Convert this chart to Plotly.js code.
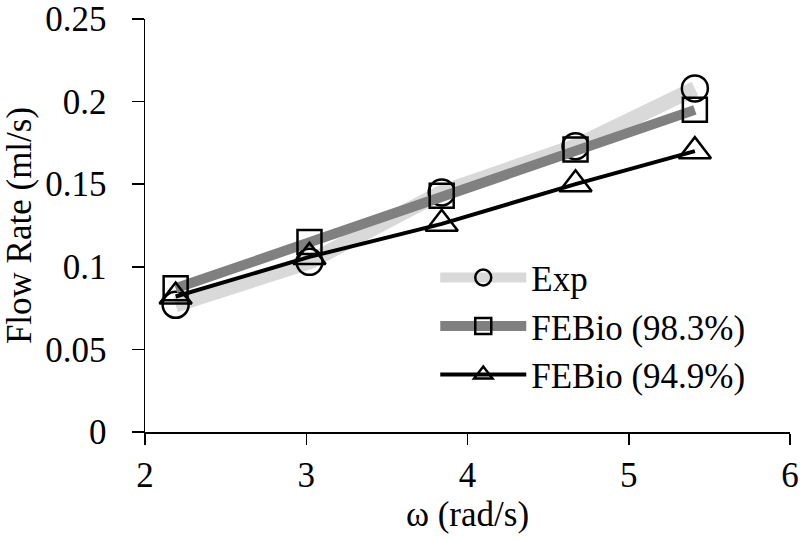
<!DOCTYPE html>
<html>
<head>
<meta charset="utf-8">
<script src="https://cdn.plot.ly/plotly-3.0.1.min.js"></script>
<style>html,body{margin:0;padding:0;background:#fff;}#chart{width:800px;height:539px;}</style>
</head>
<body>
<div id="chart"></div>
<script>
const omega = [2.19, 3.02, 3.84, 4.67, 5.41];
const expFlow = [0.077, 0.103, 0.145, 0.173, 0.208];
const febio983 = [0.087, 0.115, 0.143, 0.171, 0.195];
const febio949 = [0.082, 0.106, 0.126, 0.150, 0.170];
const seriesNames = ['Exp', 'FEBio (98.3%)', 'FEBio (94.9%)'];
const xTicks = [2, 3, 4, 5, 6];
const yTicks = [0, 0.05, 0.1, 0.15, 0.2, 0.25];
const yTickText = ['0', '0.05', '0.1', '0.15', '0.2', '0.25'];

const font = '"Liberation Serif", serif';
const traces = [
  {x: omega, y: expFlow, name: seriesNames[0], mode: 'lines+markers',
   line: {color: '#d9d9d9', width: 15},
   marker: {symbol: 'circle-open', size: 26, color: '#000', line: {width: 2.5, color: '#000'}}},
  {x: omega, y: febio983, name: seriesNames[1], mode: 'lines+markers',
   line: {color: '#808080', width: 10},
   marker: {symbol: 'square-open', size: 24, color: '#000', line: {width: 2.5, color: '#000'}}},
  {x: omega, y: febio949, name: seriesNames[2], mode: 'lines+markers',
   line: {color: '#000', width: 4},
   marker: {symbol: 'triangle-up-open', size: 28, color: '#000', line: {width: 2.5, color: '#000'}}}
];
const layout = {
  width: 800, height: 539,
  margin: {l: 145, r: 10, t: 19, b: 107},
  paper_bgcolor: '#fff', plot_bgcolor: '#fff',
  font: {family: font, size: 35, color: '#000'},
  showlegend: true,
  legend: {x: 0.45, y: 0.445, xanchor: 'left', yanchor: 'top', bgcolor: 'rgba(0,0,0,0)',
           font: {family: font, size: 35, color: '#000'}, itemwidth: 86, tracegroupgap: 0},
  xaxis: {range: [2, 6], tickvals: xTicks, ticktext: xTicks.map(String), showgrid: false, zeroline: false,
          showline: true, linecolor: '#000', linewidth: 1.5, ticks: 'outside', ticklen: 11, tickwidth: 1.5, tickcolor: '#000',
          ticklabeloverflow: 'allow',
          tickfont: {family: font, size: 35}, title: {text: 'ω (rad/s)', font: {family: font, size: 35}, standoff: 8}},
  yaxis: {range: [0, 0.25], tickvals: yTicks, ticktext: yTickText, showgrid: false, zeroline: false,
          showline: true, linecolor: '#000', linewidth: 1.5, ticks: 'outside', ticklen: 12, tickwidth: 1.5, tickcolor: '#000',
          ticklabeloverflow: 'allow', ticklabelstandoff: 18,
          tickfont: {family: font, size: 35}, title: {text: 'Flow Rate (ml/s)', font: {family: font, size: 35}, standoff: 6}}
};
Plotly.newPlot('chart', traces, layout, {displayModeBar: false, staticPlot: true});
</script>
</body>
</html>
